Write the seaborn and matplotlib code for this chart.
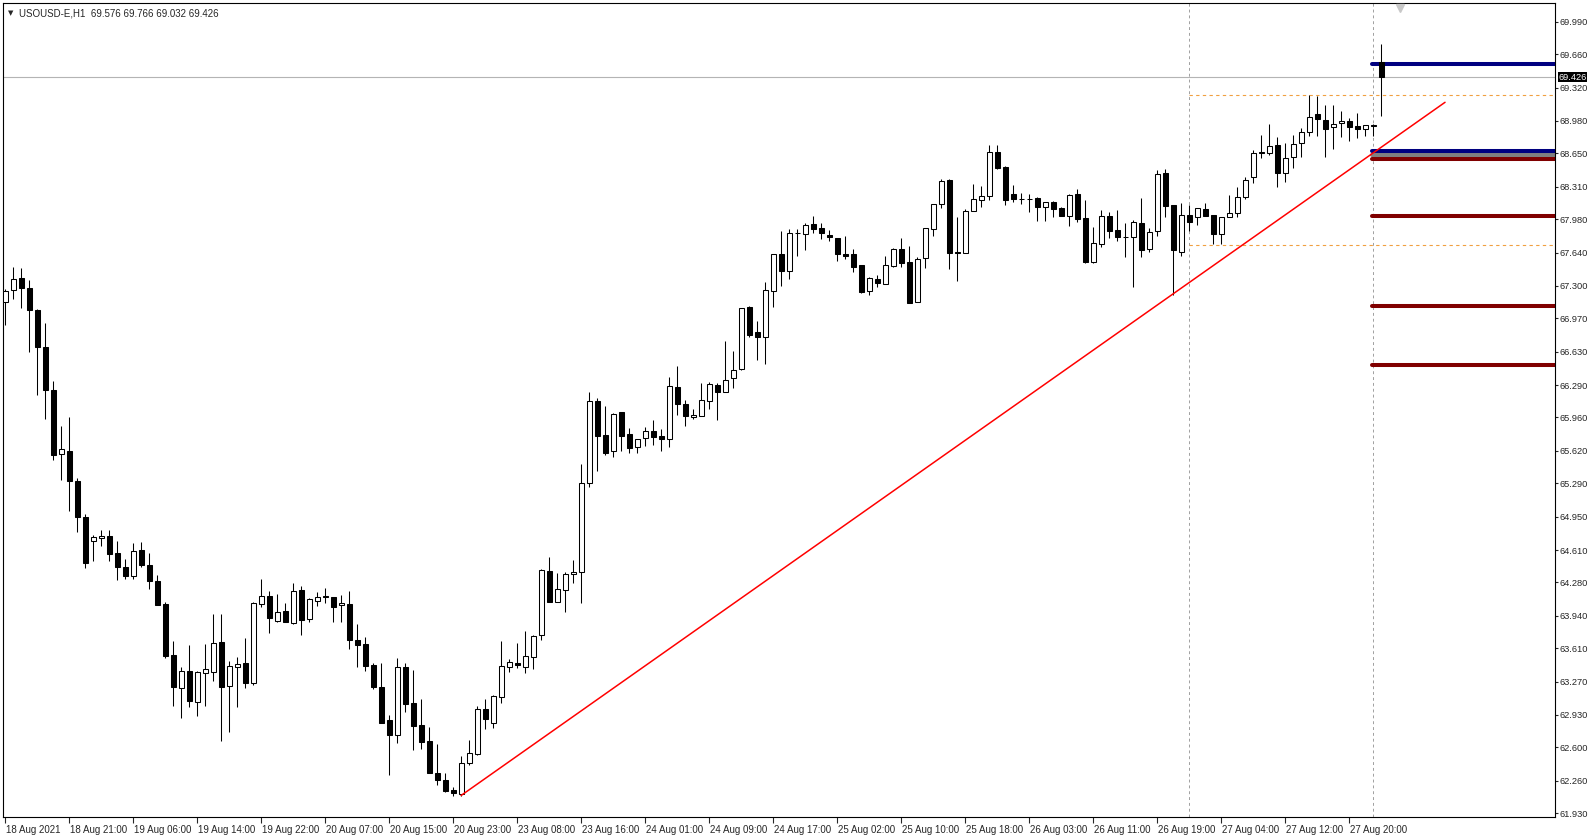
import numpy as np
import pandas as pd
import seaborn as sns
import matplotlib.pyplot as plt
from matplotlib import transforms

sns.set_style("white")
plt.rcParams['font.family'] = ['Liberation Sans', 'DejaVu Sans']

# USOUSD-E H1 candles
opens = [67.14, 67.26, 67.38, 67.28, 67.05, 66.68, 66.24, 65.585, 65.62, 65.31,
         64.945, 64.70, 64.73, 64.75, 64.58, 64.44, 64.35, 64.61, 64.46, 64.29,
         64.06, 63.54, 63.21, 63.38, 63.06, 63.36, 63.37, 63.67, 63.23, 63.42,
         63.46, 63.26, 64.06, 64.14, 63.89, 63.99, 63.87, 64.20, 63.91, 64.09,
         64.14, 64.13, 64.05, 64.06, 63.69, 63.65, 63.44, 63.22, 62.88, 62.73,
         63.42, 63.05, 62.83, 62.67, 62.34, 62.27, 62.165, 62.13, 62.44, 62.53,
         62.99, 62.85, 63.11, 63.42, 63.457, 63.42, 63.525, 63.74, 64.40, 64.08,
         64.20, 64.37, 64.39, 65.29, 66.13, 65.78, 65.62, 66.02, 65.79, 65.656,
         65.75, 65.82, 65.77, 65.74, 66.27, 66.10, 65.96, 65.975, 66.13, 66.29,
         66.22, 66.36, 66.45, 67.09, 66.83, 66.78, 67.25, 67.63, 67.455, 67.835,
         67.83, 67.93, 67.89, 67.815, 67.79, 67.62, 67.62, 67.51, 67.25, 67.37,
         67.32, 67.505, 67.675, 67.54, 67.14, 67.58, 67.875, 68.13, 68.38, 67.65,
         67.64, 68.065, 68.17, 68.22, 68.66, 68.51, 68.235, 68.19, 68.19, 68.195,
         68.107, 68.157, 68.09, 68.014, 68.235, 67.99, 67.546, 67.726, 68.01, 67.869,
         67.80, 67.794, 67.94, 67.672, 67.863, 68.446, 68.125, 67.65, 68.022, 67.998,
         68.08, 68.022, 67.829, 68.005, 68.04, 68.202, 68.406, 68.66, 68.65, 68.735,
         68.446, 68.609, 68.752, 68.871, 69.047, 68.99, 68.915, 68.956, 68.98, 68.928,
         68.894, 68.935, 69.576]
highs = [67.27, 67.49, 67.48, 67.36, 67.06, 66.92, 66.33, 65.87, 65.96, 65.345,
         64.975, 64.76, 64.81, 64.81, 64.70, 64.52, 64.68, 64.69, 64.58, 64.36,
         64.08, 63.68, 63.42, 63.64, 63.38, 63.65, 63.96, 63.96, 63.48, 63.52,
         63.71, 64.08, 64.31, 64.19, 64.16, 64.07, 64.27, 64.24, 64.12, 64.18,
         64.22, 64.13, 64.15, 64.19, 63.86, 63.72, 63.46, 63.46, 62.93, 63.51,
         63.46, 63.39, 63.09, 62.81, 62.63, 62.335, 62.20, 62.51, 62.68, 63.02,
         63.09, 63.13, 63.68, 63.50, 63.66, 63.79, 63.745, 64.42, 64.54, 64.38,
         64.39, 64.51, 65.49, 66.22, 66.16, 66.08, 66.01, 66.02, 65.85, 65.74,
         65.86, 65.934, 65.84, 66.37, 66.48, 66.14, 66.05, 66.31, 66.32, 66.31,
         66.74, 66.64, 67.07, 67.10, 66.945, 67.34, 67.62, 67.86, 67.88, 67.88,
         67.94, 68.01, 67.94, 67.87, 67.79, 67.81, 67.68, 67.51, 67.393, 67.41,
         67.60, 67.69, 67.79, 67.706, 67.59, 67.886, 68.13, 68.385, 68.385, 68.00,
         68.08, 68.34, 68.32, 68.74, 68.735, 68.52, 68.33, 68.25, 68.235, 68.21,
         68.157, 68.167, 68.106, 68.235, 68.283, 68.174, 67.90, 68.072, 68.055, 68.072,
         67.937, 67.97, 68.20, 67.886, 68.48, 68.487, 68.125, 68.148, 68.124, 68.09,
         68.148, 68.022, 67.998, 68.226, 68.304, 68.406, 68.684, 68.837, 68.949, 68.82,
         68.752, 68.837, 68.905, 69.244, 69.234, 69.142, 69.142, 69.085, 69.007, 69.064,
         68.942, 68.945, 69.766]
lows = [66.90, 67.17, 67.07, 66.63, 66.19, 65.94, 65.53, 65.32, 65.01, 64.79,
        64.43, 64.50, 64.65, 64.50, 64.30, 64.32, 64.32, 64.44, 64.21, 64.05,
        63.51, 63.02, 62.90, 63.01, 62.92, 63.02, 63.28, 62.665, 62.76, 63.01,
        63.21, 63.24, 64.03, 63.77, 63.88, 63.88, 63.86, 63.74, 63.88, 64.04,
        64.07, 63.88, 63.88, 63.60, 63.42, 63.38, 63.19, 62.845, 62.32, 62.64,
        62.96, 62.57, 62.58, 62.335, 62.22, 62.15, 62.10, 62.105, 62.42, 62.52,
        62.79, 62.80, 63.05, 63.37, 63.41, 63.354, 63.40, 63.69, 64.08, 64.08,
        63.98, 64.27, 64.07, 65.25, 65.41, 65.58, 65.56, 65.62, 65.60, 65.60,
        65.67, 65.68, 65.62, 65.66, 65.99, 65.87, 65.94, 65.97, 66.05, 65.93,
        66.22, 66.26, 66.44, 66.78, 66.545, 66.50, 67.09, 67.30, 67.37, 67.60,
        67.665, 67.84, 67.78, 67.757, 67.55, 67.57, 67.44, 67.23, 67.207, 67.29,
        67.32, 67.49, 67.49, 67.13, 67.14, 67.48, 67.81, 68.09, 67.47, 67.35,
        67.64, 68.065, 68.10, 68.17, 68.487, 68.12, 68.15, 68.13, 68.055, 67.96,
        67.96, 68.00, 68.014, 67.91, 67.953, 67.536, 67.536, 67.699, 67.784, 67.76,
        67.597, 67.285, 67.59, 67.648, 67.807, 68.005, 67.207, 67.605, 67.862, 67.92,
        68.015, 67.727, 67.727, 67.998, 68.005, 68.182, 68.351, 68.60, 68.633, 68.304,
        68.362, 68.497, 68.609, 68.827, 68.827, 68.609, 68.691, 68.82, 68.779, 68.803,
        68.827, 68.827, 69.032]
closes = [67.25, 67.37, 67.28, 67.05, 66.68, 66.24, 65.58, 65.64, 65.31, 64.945,
          64.48, 64.74, 64.756, 64.57, 64.44, 64.35, 64.60, 64.46, 64.29, 64.05,
          63.53, 63.22, 63.38, 63.07, 63.37, 63.40, 63.665, 63.22, 63.43, 63.45,
          63.26, 64.07, 64.145, 63.92, 63.975, 63.88, 64.19, 63.90, 64.11, 64.135,
          64.135, 64.03, 64.07, 63.69, 63.64, 63.43, 63.22, 62.85, 62.73, 63.415,
          63.04, 62.82, 62.66, 62.34, 62.27, 62.16, 62.14, 62.445, 62.54, 62.99,
          62.89, 63.12, 63.43, 63.47, 63.44, 63.53, 63.735, 64.41, 64.08, 64.21,
          64.37, 64.39, 65.29, 66.13, 65.775, 65.60, 66.00, 65.775, 65.645, 65.74,
          65.82, 65.758, 65.737, 66.28, 66.10, 65.97, 65.99, 66.14, 66.30, 66.22,
          66.34, 66.44, 67.07, 66.80, 66.78, 67.26, 67.62, 67.455, 67.835, 67.84,
          67.92, 67.88, 67.84, 67.80, 67.63, 67.607, 67.495, 67.24, 67.38, 67.33,
          67.51, 67.675, 67.535, 67.13, 67.57, 67.886, 68.13, 68.37, 67.64, 67.64,
          68.06, 68.18, 68.22, 68.66, 68.50, 68.17, 68.185, 68.18, 68.18, 68.107,
          68.157, 68.086, 68.014, 68.225, 67.98, 67.54, 67.733, 68.015, 67.862, 67.794,
          67.80, 67.947, 67.665, 67.852, 68.44, 68.117, 67.666, 68.022, 67.954, 68.09,
          68.015, 67.829, 67.998, 68.04, 68.202, 68.379, 68.65, 68.65, 68.728, 68.446,
          68.599, 68.745, 68.864, 69.017, 68.997, 68.894, 68.945, 68.98, 68.922, 68.894,
          68.942, 68.93, 69.426]

time_labels = ["18 Aug 2021", "18 Aug 21:00", "19 Aug 06:00", "19 Aug 14:00",
               "19 Aug 22:00", "20 Aug 07:00", "20 Aug 15:00", "20 Aug 23:00",
               "23 Aug 08:00", "23 Aug 16:00", "24 Aug 01:00", "24 Aug 09:00",
               "24 Aug 17:00", "25 Aug 02:00", "25 Aug 10:00", "25 Aug 18:00",
               "26 Aug 03:00", "26 Aug 11:00", "26 Aug 19:00", "27 Aug 04:00",
               "27 Aug 12:00", "27 Aug 20:00"]
price_ticks = [69.990, 69.660, 69.320, 68.980, 68.650, 68.310, 67.980, 67.640,
               67.300, 66.970, 66.630, 66.290, 65.960, 65.620, 65.290, 64.950,
               64.610, 64.280, 63.940, 63.610, 63.270, 62.930, 62.600, 62.260, 61.930]

last_price = 69.426
blue_levels = [69.56, 68.67]
gray_levels = [68.63]
red_levels = [68.589, 68.01, 67.10, 66.49]
orange_levels = [69.24, 67.72]
separator_bars = [148, 171]
trend_bars = [57, 180]
trend_prices = [62.11, 69.17]

df = pd.DataFrame({'open': opens, 'high': highs, 'low': lows, 'close': closes})
df['bar'] = np.arange(len(df))
bull = df[df['close'] >= df['open']]
bear = df[df['close'] < df['open']]

fig = plt.figure(figsize=(15.91, 8.39), dpi=100)
ax = fig.add_axes([0.0019, 0.0262, 0.9755, 0.9702])

XMAX = 193.75

# levels behind the candles
ax.axhline(last_price, color='#b4b4b4', lw=0.8, zorder=1)
for b in separator_bars:
    ax.axvline(b, color='#a0a0a0', lw=0.7, ls=(0, (3, 3)), zorder=1)
for y in orange_levels:
    ax.hlines(y, separator_bars[0], XMAX, colors='#f0a040', lw=0.8,
              linestyles=(0, (3, 3)), zorder=1)
start = separator_bars[1] - 0.15
for y in red_levels:
    ax.plot([start, XMAX + 5], [y, y], color='#800000', lw=2.9,
            solid_capstyle='round', zorder=1.5)
for y in gray_levels:
    ax.plot([start, XMAX + 5], [y, y], color='#808080', lw=2.9,
            solid_capstyle='round', zorder=1.6)
for y in blue_levels:
    ax.plot([start, XMAX + 5], [y, y], color='#000080', lw=2.9,
            solid_capstyle='round', zorder=1.7)

# candles
ax.vlines(df['bar'], df['low'], df['high'], color='black', lw=0.75, zorder=2)
ax.bar(bull['bar'], bull['close'] - bull['open'], bottom=bull['open'], width=0.62,
       facecolor='white', edgecolor='black', linewidth=0.75, zorder=3)
ax.bar(bear['bar'], bear['open'] - bear['close'], bottom=bear['close'], width=0.62,
       facecolor='black', edgecolor='black', linewidth=0.75, zorder=3)

# trend line
sns.lineplot(x=trend_bars, y=trend_prices, color='#ff0000', lw=1.1, ax=ax, zorder=4)

ax.set_xlim(-0.25, XMAX)
ax.set_ylim(61.891, 70.181)

# price axis on the right
ax.yaxis.tick_right()
ax.set_yticks(price_ticks)
ax.set_yticklabels([f"{v:.3f}" for v in price_ticks])
ax.tick_params(axis='y', right=True, left=False, direction='out', length=2.5,
               width=0.8, pad=1, labelsize=6.7)

# time axis
ax.set_xticks(np.arange(0, 8 * len(time_labels), 8))
ax.set_xticklabels(time_labels, ha='left')
ax.tick_params(axis='x', bottom=True, direction='out', length=4, width=0.8,
               pad=1.5, labelsize=7)
shift = transforms.ScaledTranslation(1 / 100, 0, fig.dpi_scale_trans)
for lab in ax.get_xticklabels():
    lab.set_transform(lab.get_transform() + shift)

for sp in ax.spines.values():
    sp.set_color('black')
    sp.set_linewidth(0.8)

# current price box
ax.annotate(f"{last_price:.3f}", xy=(1.0, last_price),
            xycoords=ax.get_yaxis_transform(), xytext=(2.5, 0),
            textcoords='offset points', ha='left', va='center', fontsize=6.7,
            color='white', bbox=dict(facecolor='black', edgecolor='none', pad=0.5))

# header text
ax.text(0.0035, 0.9915, "\u25bc", transform=ax.transAxes, ha='left', va='top',
        fontsize=5, family=['DejaVu Sans'])
ax.text(0.0105, 0.993, "USOUSD-E,H1  69.576 69.766 69.032 69.426",
        transform=ax.transAxes, ha='left', va='top', fontsize=7)

# chart shift marker
ax.plot([174.4], [0.994], marker='v', color='#c8c8c8', ms=6,
        transform=ax.get_xaxis_transform(), clip_on=False, zorder=5)

fig.savefig("out.png", dpi=100, facecolor='white')
